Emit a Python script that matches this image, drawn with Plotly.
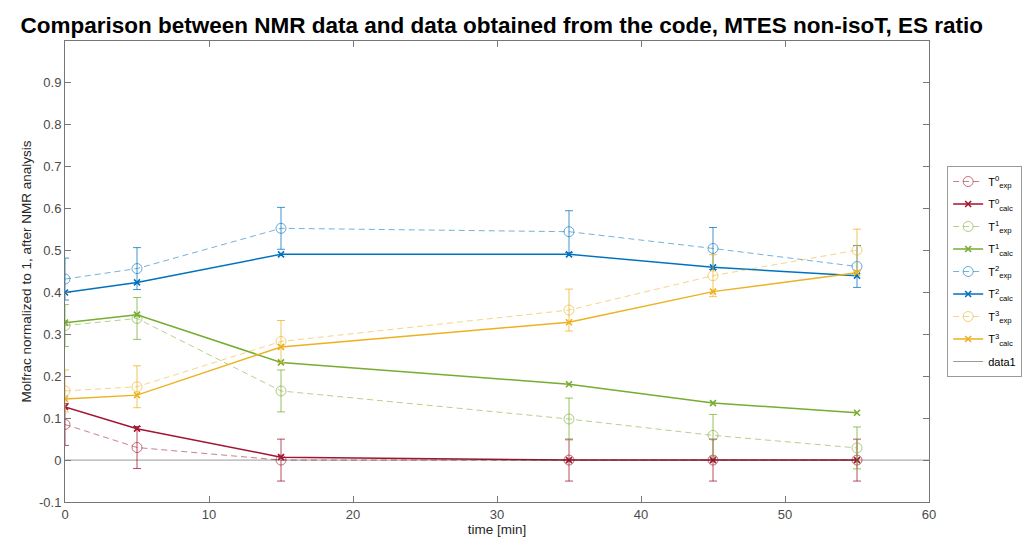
import plotly.graph_objects as go

# Sampling times [min]
time = [0, 5, 15, 35, 45, 55]

# NMR (experimental) mole fractions
t0_exp = [0.085, 0.030, 0.000, 0.000, 0.000, 0.000]
t1_exp = [0.321, 0.338, 0.165, 0.098, 0.059, 0.029]
t2_exp = [0.432, 0.457, 0.553, 0.545, 0.505, 0.462]
t3_exp = [0.165, 0.175, 0.283, 0.358, 0.440, 0.501]

# Code (calculated) mole fractions
t0_calc = [0.127, 0.075, 0.007, 0.000, 0.000, 0.000]
t1_calc = [0.328, 0.347, 0.233, 0.181, 0.136, 0.113]
t2_calc = [0.400, 0.424, 0.491, 0.491, 0.460, 0.440]
t3_calc = [0.146, 0.155, 0.270, 0.329, 0.402, 0.447]

# NMR uncertainty (symmetric)
exp_err = 0.05

x_ticks = [0, 10, 20, 30, 40, 50, 60]
y_ticks = [-0.1, 0, 0.1, 0.2, 0.3, 0.4, 0.5, 0.6, 0.7, 0.8, 0.9]
y_tick_text = ["-0.1", "0", "0.1", "0.2", "0.3", "0.4", "0.5", "0.6", "0.7", "0.8", "0.9"]

colors = [(162, 20, 47), (119, 172, 48), (0, 114, 189), (237, 177, 32)]
exp_series = [t0_exp, t1_exp, t2_exp, t3_exp]
calc_series = [t0_calc, t1_calc, t2_calc, t3_calc]

FONT = "Liberation Sans, Arial, Helvetica, sans-serif"


def rgba(c, a):
    return f"rgba({c[0]},{c[1]},{c[2]},{a})"


fig = go.Figure()

for i, (ye, yc, c) in enumerate(zip(exp_series, calc_series, colors)):
    fig.add_trace(go.Scatter(
        x=time, y=ye, mode="lines+markers",
        name=f"T<sup>{i}</sup><sub>exp</sub>", legendgroup=f"e{i}",
        line=dict(color=rgba(c, 0.55), width=1, dash="6px,4px"),
        marker=dict(symbol="circle-open", size=10, color=rgba(c, 0.6),
                    line=dict(width=1)),
        error_y=dict(type="constant", value=exp_err, color=rgba(c, 0.75),
                     thickness=1, width=4),
    ))
    fig.add_trace(go.Scatter(
        x=time, y=yc, mode="lines+markers",
        name=f"T<sup>{i}</sup><sub>calc</sub>", legendgroup=f"c{i}",
        line=dict(color=rgba(c, 1), width=1.5),
        marker=dict(symbol="x-thin-open", size=6, color=rgba(c, 1),
                    line=dict(width=1.6, color=rgba(c, 1))),
    ))

# Zero reference line
fig.add_trace(go.Scatter(
    x=[x_ticks[0], x_ticks[-1]], y=[0, 0], mode="lines", name="data1",
    legendgroup="ref",
    line=dict(color="rgba(40,40,40,0.8)", width=0.6),
))

axis_common = dict(
    showline=True, linecolor="#767676", linewidth=1, mirror="ticks",
    ticks="inside", ticklen=6, tickcolor="#767676", showgrid=False,
    zeroline=False, tickfont=dict(family=FONT, size=13, color="#4a4a4a"),
)

fig.update_layout(
    width=1022, height=542,
    margin=dict(l=65, r=93, t=41, b=40, autoexpand=False),
    paper_bgcolor="white", plot_bgcolor="white",
    title=dict(
        text="<b>Comparison between NMR data and data obtained from the code, MTES non-isoT, ES ratio</b>",
        font=dict(family=FONT, size=22.5, color="black"),
        x=0.491, xanchor="center", y=0.953, yanchor="middle",
    ),
    xaxis=dict(range=[0, 60], tickvals=x_ticks,
               title=dict(text="time [min]", standoff=2,
                          font=dict(family=FONT, size=13.5, color="#262626")),
               **axis_common),
    yaxis=dict(range=[-0.1, 1.0], tickvals=y_ticks, ticktext=y_tick_text,
               title=dict(text="Molfrac normalized to 1, after NMR analysis", standoff=4,
                          font=dict(family=FONT, size=13.5, color="#262626")),
               **axis_common),
    legend=dict(
        x=1.021, xanchor="left", y=0.5, yanchor="middle",
        bgcolor="white", bordercolor="#9a9a9a", borderwidth=1,
        font=dict(family=FONT, size=11, color="black"),
        itemwidth=30, tracegroupgap=3.5,
    ),
    showlegend=True,
)

fig.write_html("out.html")
